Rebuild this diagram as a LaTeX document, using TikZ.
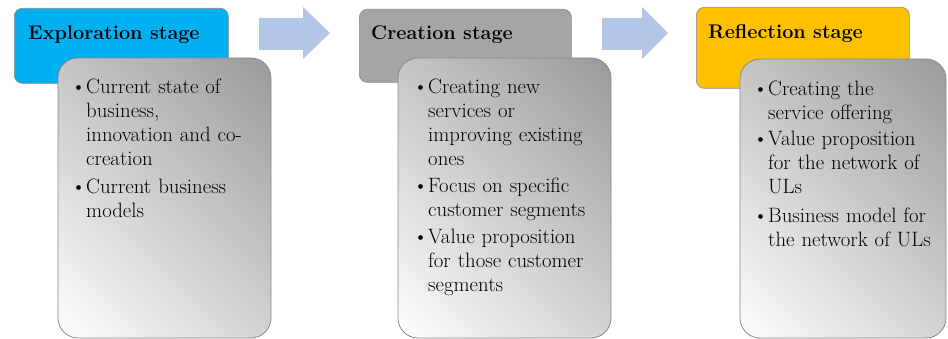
\documentclass[tikz,border=0pt]{standalone}
\definecolor{hblue}{HTML}{00B0F0}
\definecolor{hgray}{HTML}{A5A5A5}
\definecolor{hyellow}{HTML}{FFC000}
\definecolor{harrow}{HTML}{B4C6E5}
\definecolor{hborder}{HTML}{8C8C8C}
\definecolor{bborder}{HTML}{8A8A8A}
\definecolor{bdark}{HTML}{999999}
\definecolor{blight}{HTML}{FFFFFF}
\newcommand{\bul}{\leavevmode\llap{\textbullet}}
\begin{document}
\begin{tikzpicture}[x=1pt,y=-1pt,
  header/.style={draw=hborder, line width=0.7pt, rounded corners=8pt, anchor=north west, inner sep=0pt},
  bodyshape/.style={anchor=north west, inner sep=0pt, outer sep=0pt},
  bodyline/.style={draw=bborder, line width=0.8pt, rounded corners=20pt},
  bodyfill/.style={shading=axis, top color=bdark, bottom color=blight, shading angle=-45},
  arr/.style={fill=harrow, draw=none},
  htext/.style={anchor=base west, inner sep=0pt, font=\fontsize{19.8}{24}\selectfont\bfseries},
  btext/.style={anchor=north west, inner sep=0pt, text width=200pt, align=left,
     font=\fontsize{20.8}{24}\selectfont}
]
\useasboundingbox (0,0) rectangle (948,339);

% headers
\node[header, fill=hblue, minimum width=214pt, minimum height=75pt] (h1) at (14,8) {};
\node[header, fill=hgray, minimum width=212pt, minimum height=73pt] (h2) at (359,9) {};
\node[header, fill=hyellow, minimum width=213pt, minimum height=81pt] (h3) at (696,7) {};

\node[htext] (l1) at (28,40) {Exploration stage};
\node[htext] (l2) at (371,40) {Creation stage};
\node[htext] (l3) at (708,39) {Reflection stage};

% bodies
\node[bodyshape, minimum width=213pt, minimum height=280pt] (b1) at (58,58) {};
\node[bodyshape, minimum width=213pt, minimum height=280pt] (b2) at (398,58) {};
\node[bodyshape, minimum width=206pt, minimum height=279pt] (b3) at (740,59) {};

\foreach \b in {b1,b2,b3}{
  \begin{scope}
    \clip[rounded corners=20pt] (\b.north west) rectangle (\b.south east);
    \shade[bodyfill] ([shift={(-176,-176)}]\b.center) rectangle ([shift={(176,176)}]\b.center);
  \end{scope}
  \draw[bodyline] (\b.north west) rectangle (\b.south east);
}

\node[btext] (t1) at (86,78.5) {\bul Current state of\\business,\\innovation and co-\\creation\\[4pt]\bul Current business\\models};
\node[btext] (t2) at (428,78.5) {\bul Creating new\\services or\\improving existing\\ones\\[3pt]\bul Focus on specific\\customer segments\\[3pt]\bul Value proposition\\for those customer\\segments};
\node[btext] (t3) at (768,80.5) {\bul Creating the\\service offering\\[2.5pt]\bul Value proposition\\for the network of\\ULs\\[5pt]\bul Business model for\\the network of ULs};

% arrows
\fill[arr] (259,18) -- (303,18) -- (303,7) -- (330,33) -- (303,59) -- (303,50) -- (259,50) -- cycle;
\fill[arr] (602,18) -- (642,18) -- (642,7) -- (668,33) -- (642,59) -- (642,50) -- (602,50) -- cycle;
\end{tikzpicture}
\end{document}
